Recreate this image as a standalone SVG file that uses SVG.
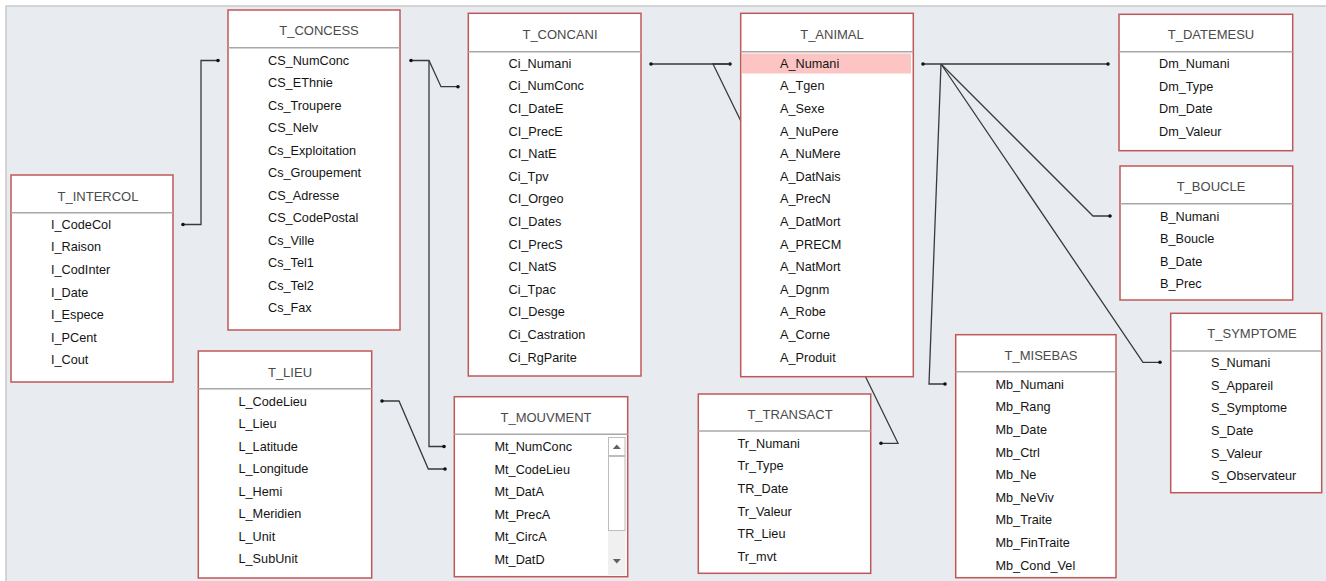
<svg xmlns="http://www.w3.org/2000/svg" width="1326" height="581" viewBox="0 0 1326 581">
<style>
.tbl{fill:#fff;stroke:#c0585a;stroke-width:1.5}
.sep{stroke:#a8a8a8;stroke-width:1.5}
.hd{font-family:"Liberation Sans",Arial,sans-serif;font-size:13px;fill:#4a4a4a;text-anchor:middle}
.fd{font-family:"Liberation Sans",Arial,sans-serif;font-size:12.7px;fill:#141414}
.ln{fill:none;stroke:#3a3a3a;stroke-width:1.3}
.dot{fill:#111}
</style>
<rect x="0" y="0" width="1326" height="581" fill="#fff"/>
<rect x="6" y="6" width="1320" height="575" fill="#e8ebef"/>
<path d="M6,581 V6 H1326" fill="none" stroke="#c9c9c9" stroke-width="1.5"/>

<g id="connectors">
<path class="ln" d="M183,224.5 H201 V60.5 H218"/>
<circle class="dot" cx="183" cy="224.5" r="1.8"/><circle class="dot" cx="218" cy="60.5" r="1.8"/>
<path class="ln" d="M411,60.5 H429 L441,86.7 H458"/>
<circle class="dot" cx="411" cy="60.5" r="1.8"/><circle class="dot" cx="458" cy="86.7" r="1.8"/>
<path class="ln" d="M429,60.5 V446.5 H444"/>
<circle class="dot" cx="444" cy="446.5" r="1.8"/>
<path class="ln" d="M382,401 H399 L428.3,469 H445"/>
<circle class="dot" cx="382" cy="401" r="1.8"/><circle class="dot" cx="445" cy="469" r="1.8"/>
<path class="ln" d="M651,64 H730"/>
<circle class="dot" cx="651" cy="64" r="1.8"/><circle class="dot" cx="730" cy="64" r="1.8"/>
<path class="ln" d="M730,64 H713 L898,443.3 H881"/>
<circle class="dot" cx="881" cy="443.3" r="1.8"/>
<path class="ln" d="M923,64 H1108"/>
<circle class="dot" cx="923" cy="64" r="1.8"/><circle class="dot" cx="1108" cy="64" r="1.8"/>
<path class="ln" d="M941,64 L1093,216 H1110"/>
<circle class="dot" cx="1110" cy="216" r="1.8"/>
<path class="ln" d="M941,64 L1143,362.3 H1160"/>
<circle class="dot" cx="1160" cy="362.3" r="1.8"/>
<path class="ln" d="M941,64 L929,384 H945"/>
<circle class="dot" cx="945" cy="384" r="1.8"/>
</g>

<g id="T_CONCESS">
<rect class="tbl" x="228" y="10" width="172" height="320"/>
<line class="sep" x1="228" y1="47.7" x2="400" y2="47.7"/>
<text class="hd" x="319" y="35">T_CONCESS</text>
<text class="fd" x="268" y="64.5">CS_NumConc</text>
<text class="fd" x="268" y="87">CS_EThnie</text>
<text class="fd" x="268" y="109.5">Cs_Troupere</text>
<text class="fd" x="268" y="132">CS_Nelv</text>
<text class="fd" x="268" y="154.5">Cs_Exploitation</text>
<text class="fd" x="268" y="177">Cs_Groupement</text>
<text class="fd" x="268" y="199.5">CS_Adresse</text>
<text class="fd" x="268" y="222">CS_CodePostal</text>
<text class="fd" x="268" y="244.5">Cs_Ville</text>
<text class="fd" x="268" y="267">Cs_Tel1</text>
<text class="fd" x="268" y="289.5">Cs_Tel2</text>
<text class="fd" x="268" y="312">Cs_Fax</text>
</g>

<g id="T_INTERCOL">
<rect class="tbl" x="11" y="175" width="162" height="207"/>
<line class="sep" x1="11" y1="212.7" x2="173" y2="212.7"/>
<text class="hd" x="98" y="200.5">T_INTERCOL</text>
<text class="fd" x="51" y="228.8">I_CodeCol</text>
<text class="fd" x="51" y="251.4">I_Raison</text>
<text class="fd" x="51" y="274">I_CodInter</text>
<text class="fd" x="51" y="296.6">I_Date</text>
<text class="fd" x="51" y="319.2">I_Espece</text>
<text class="fd" x="51" y="341.8">I_PCent</text>
<text class="fd" x="51" y="364.4">I_Cout</text>
</g>

<g id="T_CONCANI">
<rect class="tbl" x="468.3" y="13.3" width="172.7" height="362.7"/>
<line class="sep" x1="468.3" y1="51.7" x2="641" y2="51.7"/>
<text class="hd" x="560" y="39">T_CONCANI</text>
<text class="fd" x="508.5" y="67.8">Ci_Numani</text>
<text class="fd" x="508.5" y="90.4">Ci_NumConc</text>
<text class="fd" x="508.5" y="113">CI_DateE</text>
<text class="fd" x="508.5" y="135.6">CI_PrecE</text>
<text class="fd" x="508.5" y="158.2">CI_NatE</text>
<text class="fd" x="508.5" y="180.8">Ci_Tpv</text>
<text class="fd" x="508.5" y="203.4">CI_Orgeo</text>
<text class="fd" x="508.5" y="226">CI_Dates</text>
<text class="fd" x="508.5" y="248.6">CI_PrecS</text>
<text class="fd" x="508.5" y="271.2">CI_NatS</text>
<text class="fd" x="508.5" y="293.8">Ci_Tpac</text>
<text class="fd" x="508.5" y="316.4">CI_Desge</text>
<text class="fd" x="508.5" y="339">Ci_Castration</text>
<text class="fd" x="508.5" y="361.6">Ci_RgParite</text>
</g>

<g id="T_ANIMAL">
<rect class="tbl" x="740.7" y="13.3" width="172.6" height="363.4"/>
<line class="sep" x1="740.7" y1="51.7" x2="913.3" y2="51.7"/>
<rect x="742" y="53.5" width="169" height="20" fill="#fdc4c4"/>
<text class="hd" x="832" y="39">T_ANIMAL</text>
<text class="fd" x="780" y="67.8">A_Numani</text>
<text class="fd" x="780" y="90.4">A_Tgen</text>
<text class="fd" x="780" y="113">A_Sexe</text>
<text class="fd" x="780" y="135.6">A_NuPere</text>
<text class="fd" x="780" y="158.2">A_NuMere</text>
<text class="fd" x="780" y="180.8">A_DatNais</text>
<text class="fd" x="780" y="203.4">A_PrecN</text>
<text class="fd" x="780" y="226">A_DatMort</text>
<text class="fd" x="780" y="248.6">A_PRECM</text>
<text class="fd" x="780" y="271.2">A_NatMort</text>
<text class="fd" x="780" y="293.8">A_Dgnm</text>
<text class="fd" x="780" y="316.4">A_Robe</text>
<text class="fd" x="780" y="339">A_Corne</text>
<text class="fd" x="780" y="361.6">A_Produit</text>
</g>

<g id="T_DATEMESU">
<rect class="tbl" x="1119" y="14.3" width="173.7" height="136.4"/>
<line class="sep" x1="1119" y1="51.7" x2="1292.7" y2="51.7"/>
<text class="hd" x="1211" y="39">T_DATEMESU</text>
<text class="fd" x="1159" y="68.2">Dm_Numani</text>
<text class="fd" x="1159" y="90.8">Dm_Type</text>
<text class="fd" x="1159" y="113.4">Dm_Date</text>
<text class="fd" x="1159" y="136">Dm_Valeur</text>
</g>

<g id="T_BOUCLE">
<rect class="tbl" x="1120" y="166" width="172.7" height="134"/>
<line class="sep" x1="1120" y1="203.7" x2="1292.7" y2="203.7"/>
<text class="hd" x="1211" y="191">T_BOUCLE</text>
<text class="fd" x="1160" y="220.5">B_Numani</text>
<text class="fd" x="1160" y="243.1">B_Boucle</text>
<text class="fd" x="1160" y="265.7">B_Date</text>
<text class="fd" x="1160" y="288.3">B_Prec</text>
</g>

<g id="T_SYMPTOME">
<rect class="tbl" x="1170.7" y="313.3" width="151" height="179.4"/>
<line class="sep" x1="1170.7" y1="351" x2="1321.7" y2="351"/>
<text class="hd" x="1252" y="338.3">T_SYMPTOME</text>
<text class="fd" x="1211" y="367.2">S_Numani</text>
<text class="fd" x="1211" y="389.8">S_Appareil</text>
<text class="fd" x="1211" y="412.4">S_Symptome</text>
<text class="fd" x="1211" y="435">S_Date</text>
<text class="fd" x="1211" y="457.6">S_Valeur</text>
<text class="fd" x="1211" y="480.2">S_Observateur</text>
</g>

<g id="T_LIEU">
<rect class="tbl" x="198.3" y="351" width="173.4" height="227"/>
<line class="sep" x1="198.3" y1="388.7" x2="371.7" y2="388.7"/>
<text class="hd" x="290" y="376.5">T_LIEU</text>
<text class="fd" x="238.5" y="405.5">L_CodeLieu</text>
<text class="fd" x="238.5" y="428">L_Lieu</text>
<text class="fd" x="238.5" y="450.5">L_Latitude</text>
<text class="fd" x="238.5" y="473">L_Longitude</text>
<text class="fd" x="238.5" y="495.5">L_Hemi</text>
<text class="fd" x="238.5" y="518">L_Meridien</text>
<text class="fd" x="238.5" y="540.5">L_Unit</text>
<text class="fd" x="238.5" y="563">L_SubUnit</text>
</g>

<g id="T_MOUVMENT">
<rect class="tbl" x="454.3" y="396.7" width="173.4" height="180"/>
<line class="sep" x1="454.3" y1="434.3" x2="627.7" y2="434.3"/>
<text class="hd" x="546" y="421.7">T_MOUVMENT</text>
<text class="fd" x="494.5" y="451.2">Mt_NumConc</text>
<text class="fd" x="494.5" y="473.7">Mt_CodeLieu</text>
<text class="fd" x="494.5" y="496.2">Mt_DatA</text>
<text class="fd" x="494.5" y="518.7">Mt_PrecA</text>
<text class="fd" x="494.5" y="541.2">Mt_CircA</text>
<text class="fd" x="494.5" y="563.7">Mt_DatD</text>
<rect x="608" y="437" width="17.5" height="138" fill="#f0f0f0"/>
<rect x="608.5" y="437.5" width="16.5" height="18" fill="#fff" stroke="#bdbdbd" stroke-width="1"/>
<rect x="608.5" y="456.5" width="16.5" height="74" fill="#fff" stroke="#bdbdbd" stroke-width="1"/>
<path d="M612.8,449 L620.8,449 L616.8,444.5 Z" fill="#606060"/>
<path d="M612.8,559 L620.8,559 L616.8,563.5 Z" fill="#606060"/>
</g>

<g id="T_TRANSACT">
<rect class="tbl" x="698.3" y="394" width="172.4" height="179.3"/>
<line class="sep" x1="698.3" y1="431" x2="870.7" y2="431"/>
<text class="hd" x="790" y="419.3">T_TRANSACT</text>
<text class="fd" x="737.5" y="447.8">Tr_Numani</text>
<text class="fd" x="737.5" y="470.4">Tr_Type</text>
<text class="fd" x="737.5" y="493">TR_Date</text>
<text class="fd" x="737.5" y="515.6">Tr_Valeur</text>
<text class="fd" x="737.5" y="538.2">TR_Lieu</text>
<text class="fd" x="737.5" y="560.8">Tr_mvt</text>
</g>

<g id="T_MISEBAS">
<rect class="tbl" x="955.7" y="334.7" width="160.3" height="243"/>
<line class="sep" x1="955.7" y1="371.7" x2="1116" y2="371.7"/>
<text class="hd" x="1041" y="360">T_MISEBAS</text>
<text class="fd" x="995.5" y="388.8">Mb_Numani</text>
<text class="fd" x="995.5" y="411.4">Mb_Rang</text>
<text class="fd" x="995.5" y="434">Mb_Date</text>
<text class="fd" x="995.5" y="456.6">Mb_Ctrl</text>
<text class="fd" x="995.5" y="479.2">Mb_Ne</text>
<text class="fd" x="995.5" y="501.8">Mb_NeViv</text>
<text class="fd" x="995.5" y="524.4">Mb_Traite</text>
<text class="fd" x="995.5" y="547">Mb_FinTraite</text>
<text class="fd" x="995.5" y="569.6">Mb_Cond_Vel</text>
</g>
</svg>
